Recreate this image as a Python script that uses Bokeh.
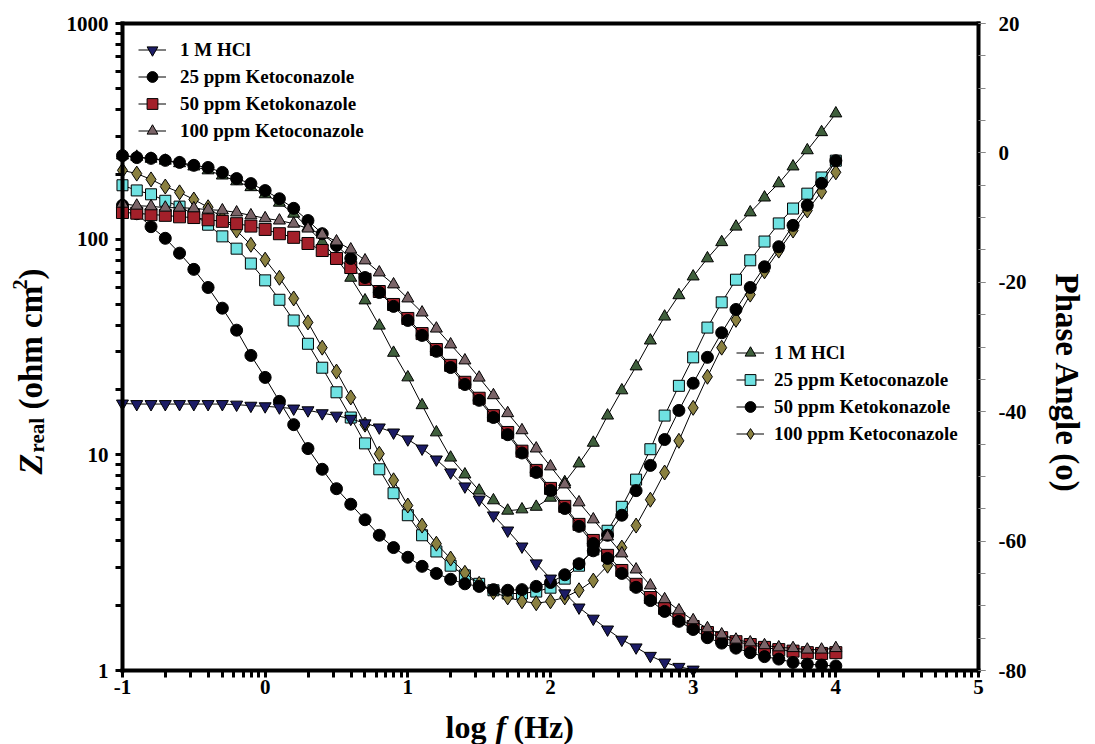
import math
from bokeh.plotting import figure
from bokeh.models import (Range1d, LinearAxis, LinearScale, FixedTicker, Legend, LegendItem,
                          Label)
from bokeh.embed import file_html
from bokeh.resources import INLINE

# ---------------- data ----------------
log_f = [-1.0, -0.9, -0.8, -0.7, -0.6, -0.5, -0.4, -0.3, -0.2, -0.1,
         0.0, 0.1, 0.2, 0.3, 0.4, 0.5, 0.6, 0.7, 0.8, 0.9,
         1.0, 1.1, 1.2, 1.3, 1.4, 1.5, 1.6, 1.7, 1.8, 1.9,
         2.0, 2.1, 2.2, 2.3, 2.4, 2.5, 2.6, 2.7, 2.8, 2.9,
         3.0, 3.1, 3.2, 3.3, 3.4, 3.5, 3.6, 3.7, 3.8, 3.9, 4.0]

# Z real (ohm cm2), left log axis
z_hcl = [17.3, 17.2, 17.2, 17.2, 17.2, 17.2, 17.2, 17.2, 17.1, 16.9,
         16.8, 16.6, 16.4, 16.1, 15.6, 15.2, 14.7, 14.0, 13.4, 12.7,
         11.8, 10.7, 9.52, 8.29, 7.14, 6.21, 5.24, 4.46, 3.76, 3.14,
         2.67, 2.28, 1.96, 1.74, 1.55, 1.39, 1.28, 1.17, 1.09, 1.04, 1.01]
z_25 = [244, 239, 237, 232, 227, 220, 215, 204, 191, 181,
        168, 154, 139, 122, 106, 93.5, 81.4, 66.4, 56.6, 48.8,
        42.0, 35.8, 30.2, 25.4, 21.2, 17.9, 14.9, 12.4, 10.2, 8.29,
        6.84, 5.64, 4.66, 3.88, 3.31, 2.82, 2.43, 2.11, 1.88, 1.69,
        1.55, 1.42, 1.34, 1.27, 1.21, 1.16, 1.13, 1.09, 1.07, 1.06, 1.05]
z_50 = [133, 132, 130, 129, 127, 126, 123, 121, 118, 115,
        111, 106, 102, 95.5, 88.6, 81.4, 73.9, 65.1, 57.2, 49.8,
        42.9, 36.5, 30.8, 26.0, 21.7, 18.3, 15.2, 12.7, 10.4, 8.47,
        6.99, 5.77, 4.76, 4.01, 3.42, 2.91, 2.51, 2.18, 1.94, 1.74,
        1.60, 1.50, 1.42, 1.36, 1.32, 1.28, 1.25, 1.23, 1.21, 1.20, 1.21]
z_100 = [146, 143, 142, 140, 140, 139, 137, 136, 133, 129,
         125, 122, 118, 112, 105, 97.6, 89.6, 79.7, 70.1, 61.7,
         53.1, 45.7, 38.5, 32.5, 27.4, 22.8, 18.9, 15.6, 13.0, 10.7,
         8.84, 7.29, 6.02, 5.02, 4.18, 3.49, 2.94, 2.48, 2.14, 1.90,
         1.71, 1.57, 1.47, 1.39, 1.35, 1.31, 1.28, 1.27, 1.25, 1.25, 1.27]

# Phase angle (degrees), right axis
ph_hcl = [-0.4, -0.6, -0.9, -1.2, -1.6, -2.1, -2.7, -3.5, -4.4, -5.3,
          -6.4, -7.7, -9.4, -11.5, -13.8, -16.3, -19.3, -22.8, -26.7, -30.9,
          -34.7, -39.0, -43.2, -47.1, -49.7, -52.2, -53.7, -55.3, -55.1, -54.7,
          -53.3, -50.9, -48.0, -44.8, -40.6, -36.7, -33.0, -29.0, -25.3, -22.0,
          -19.1, -16.3, -13.8, -11.4, -9.2, -6.9, -4.7, -2.1, 0.4, 3.2, 6.1]
ph_25 = [-5.0, -5.8, -6.4, -7.4, -8.3, -9.5, -11.1, -12.9, -14.8, -17.1,
         -19.7, -22.7, -25.9, -29.5, -33.2, -37.0, -40.9, -44.9, -48.9, -52.6,
         -56.0, -59.1, -61.6, -63.8, -65.3, -66.6, -67.6, -68.1, -68.1, -67.8,
         -67.2, -65.8, -63.8, -61.3, -58.4, -54.7, -50.5, -45.8, -40.6, -36.0,
         -31.6, -27.0, -23.1, -19.6, -16.6, -13.7, -10.9, -8.6, -6.3, -3.8, -1.2]
ph_50 = [-8.1, -9.4, -11.4, -13.2, -15.5, -18.0, -20.8, -24.0, -27.4, -31.3,
         -34.7, -38.4, -42.0, -45.7, -48.9, -51.9, -54.3, -56.7, -59.1, -61.0,
         -62.5, -63.9, -65.0, -65.9, -66.6, -67.0, -67.5, -67.6, -67.5, -67.0,
         -66.4, -65.2, -63.5, -61.5, -59.1, -56.0, -52.2, -48.3, -44.3, -39.8,
         -35.6, -31.6, -27.8, -24.2, -20.8, -17.6, -14.5, -11.2, -8.1, -4.7, -1.2]
ph_100 = [-2.7, -3.2, -4.1, -5.2, -6.1, -7.2, -8.4, -10.1, -12.0, -14.2,
          -16.5, -19.3, -22.5, -26.2, -30.1, -33.8, -37.8, -42.0, -46.5, -50.6,
          -54.5, -57.6, -60.4, -62.7, -64.9, -66.6, -67.9, -68.7, -69.3, -69.6,
          -69.3, -68.7, -67.6, -66.1, -63.8, -61.0, -57.6, -53.6, -49.4, -44.5,
          -39.4, -34.6, -30.1, -25.8, -21.9, -18.3, -15.1, -12.0, -8.9, -6.0, -3.0]

legend_z = ["1 M HCl", "25 ppm Ketoconazole", "50 ppm Ketokonazole", "100 ppm Ketoconazole"]
legend_ph = ["1 M HCl", "25 ppm Ketoconazole", "50 ppm Ketokonazole", "100 ppm Ketoconazole"]

x_ticks = [-1, 0, 1, 2, 3, 4, 5]
z_ticks = [1, 10, 100, 1000]
ph_ticks = [-80, -60, -40, -20, 0, 20]

# ---------------- figure ----------------
FONT = "Liberation Serif"

# The frame spans the whole canvas; the axes sit at fixed data locations so that
# the axis titles (plain text labels) are not clipped.
p = figure(width=1095, height=744, title=None,
           x_range=Range1d(-1.855, 5.820), y_range=Range1d(0.4539, 1278.6), y_axis_type="log",
           output_backend="svg", toolbar_location=None,
           min_border=0, min_border_left=0, min_border_right=0,
           min_border_top=0, min_border_bottom=0)
p.extra_y_ranges = {"phase": Range1d(-91.437, 23.555)}
p.extra_y_scales = {"phase": LinearScale()}
p.xgrid.visible = False
p.ygrid.visible = False
p.outline_line_color = None
p.background_fill_color = "white"
p.border_fill_color = "white"

ax_b = p.below[0]
ax_l = p.left[0]

x_minor = [k + math.log10(m) for k in range(-1, 5) for m in range(2, 10)]
ax_b.ticker = FixedTicker(ticks=x_ticks, minor_ticks=x_minor)
ax_b.major_label_overrides = {t: str(t) for t in x_ticks}
ax_b.fixed_location = 1
ax_b.bounds = (-1, 5)

z_minor = [m * 10 ** k for k in range(0, 3) for m in range(2, 10)]
ax_l.ticker = FixedTicker(ticks=z_ticks, minor_ticks=z_minor)
ax_l.major_label_overrides = {t: str(t) for t in z_ticks}
ax_l.fixed_location = -1
ax_l.bounds = (1, 1000)

ax_r = LinearAxis(y_range_name="phase", fixed_location=5, bounds=(-80, 20),
                  ticker=FixedTicker(ticks=ph_ticks, minor_ticks=list(range(-80, 21, 5))))
ax_r.major_label_overrides = {t: str(t) for t in ph_ticks}
p.add_layout(ax_r, "right")

# top border: an axis with no ticks and no labels
ax_t = LinearAxis(fixed_location=1000, bounds=(-1, 5), ticker=FixedTicker(ticks=[]))
p.add_layout(ax_t, "above")

for ax in [ax_b, ax_l, ax_r, ax_t]:
    ax.axis_line_color = "black"
    ax.axis_line_width = 4
    ax.axis_line_cap = "square"
    ax.major_tick_line_color = "black"
    ax.minor_tick_line_color = "black"
    ax.major_tick_in = 0
    ax.minor_tick_in = 0
    ax.major_label_text_font = FONT
    ax.major_label_text_font_style = "bold"
    ax.major_label_text_font_size = "21px"
    ax.major_label_text_color = "black"

for ax in [ax_b, ax_l]:
    ax.major_tick_line_width = 3
    ax.minor_tick_line_width = 3
    ax.major_tick_out = 7
    ax.minor_tick_out = 7
ax_b.major_label_standoff = 2
ax_l.major_label_standoff = 7
ax_r.major_tick_line_width = 1
ax_r.minor_tick_line_width = 1
ax_r.major_tick_out = 7
ax_r.minor_tick_out = 7
ax_r.major_tick_line_color = "#888888"
ax_r.minor_tick_line_color = "#888888"
ax_r.major_label_standoff = 13
ax_t.major_tick_out = 0
ax_t.minor_tick_out = 0


def series(x, y, marker, color, size, range_name=None):
    kw = {} if range_name is None else {"y_range_name": range_name}
    ln = p.line(x[:len(y)], y, line_color="black", line_width=1, **kw)
    sc = p.scatter(x[:len(y)], y, marker=marker, size=size, fill_color=color,
                   line_color="black", line_width=1, **kw)
    return [ln, sc]


# phase series (right axis)
r_ph_hcl = series(log_f, ph_hcl, "triangle", "#3f5f3c", 12, "phase")
r_ph_25 = series(log_f, ph_25, "square", "#6fe2e2", 11, "phase")
r_ph_100 = series(log_f, ph_100, "diamond", "#8a8040", 15, "phase")
r_ph_50 = series(log_f, ph_50, "circle", "#000000", 12, "phase")

# Z real series (left axis)
r_z_50 = series(log_f, z_50, "square", "#a3202a", 12)
r_z_25 = series(log_f, z_25, "circle", "#000000", 12)
r_z_100 = series(log_f, z_100, "triangle", "#7a6468", 12)
r_z_hcl = series(log_f, z_hcl, "inverted_triangle", "#1c1c66", 12)


def make_legend(renderer_sets, labels, loc, standoff):
    items = [LegendItem(label=lab, renderers=rs) for lab, rs in zip(labels, renderer_sets)]
    return Legend(items=items, location=loc, border_line_color=None,
                  background_fill_alpha=0, label_text_font=FONT,
                  label_text_font_style="bold", label_text_font_size="19px",
                  label_text_color="black",
                  glyph_width=28, glyph_height=27, label_height=27,
                  spacing=0, padding=0, margin=0, label_standoff=standoff)


leg1 = make_legend([r_z_hcl, r_z_25, r_z_50, r_z_100], legend_z, (138, 600), 14)
leg2 = make_legend([r_ph_hcl, r_ph_25, r_ph_50, r_ph_100], legend_ph, (736, 297), 10)
p.add_layout(leg1)
p.add_layout(leg2)

# ---------------- axis titles ----------------
def lab(text, x, y, size, style="bold", angle=0.0, align="left", baseline="alphabetic"):
    p.add_layout(Label(text=text, x=x, y=y, x_units="screen", y_units="screen",
                       angle=angle, text_font=FONT, text_font_style=style,
                       text_font_size=size, text_color="black",
                       text_align=align, text_baseline=baseline))

# y-axis title "Z_real (ohm cm^2)", reading bottom to top
a = math.pi / 2
bx = 30
lab("Z", bx, 270, "34px", "bold italic", a)
lab("real", bx + 6, 292, "21px", "bold", a)
lab("(ohm cm", bx, 335, "33px", "bold", a)
lab("2", bx - 11, 455, "20px", "bold", a)
lab(")", bx, 465, "33px", "bold", a)

# right title, reading top to bottom
lab("Phase Angle (o)", 1066, 361, "33px", "bold", -math.pi / 2, "center", "middle")

# x title "log f (Hz)"
lab("log", 445, 18, "32px", "bold")
lab("f", 495, 18, "32px", "bold italic")
lab("(Hz)", 513, 18, "32px", "bold")

open("out.html", "w").write(file_html(p, INLINE))
